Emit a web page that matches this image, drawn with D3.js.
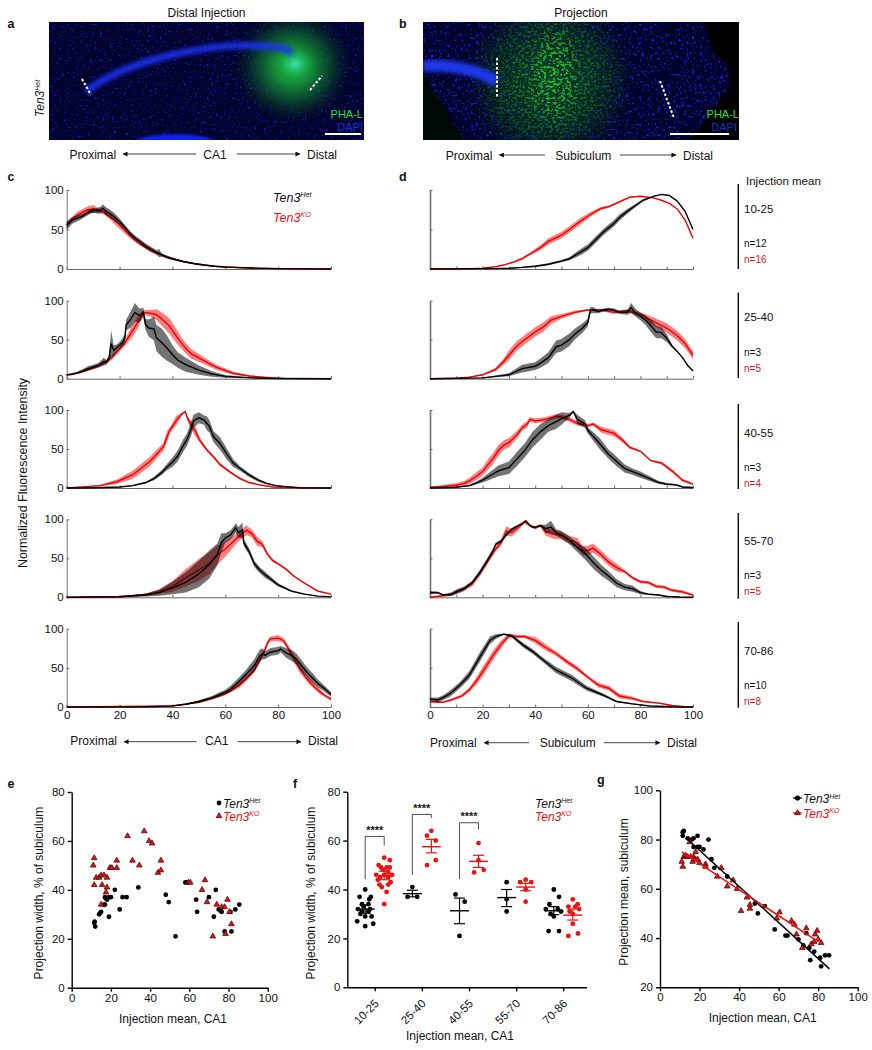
<!DOCTYPE html>
<html><head><meta charset="utf-8">
<script src="https://cdn.jsdelivr.net/npm/d3@7"></script>
<style>
html,body{margin:0;padding:0;background:#fff}
svg{display:block}
text{font-family:"Liberation Sans",Arial,sans-serif;fill:#111}
</style></head><body>
<script>
// ---------- DATA: [x, mean, half-band] ----------
const c1Het=[[0,55,5],[1,58,5],[2,61,4],[3,63,4],[4,64,4],[6,67,3],[8,71,3],[9,73,3],[10,74,3],[11,74,3],[12,74,4],[13,75,4],[13.6,77,5],[15,73,5],[16,71,5],[18,66,5],[20,60,4],[22,53,3],[24,45,3],[26,39,3],[28,34,3],[30,29,3],[32,25,3],[34,21,3],[35,20,5],[36,17.5,2],[38,15,2],[40,13,1.5],[44,9.5,1],[48,7,1],[52,5,.8],[56,3.5,.5],[60,2.5,.4],[65,1.7,.3],[70,1.2,.2],[80,.5,.1],[90,.2,.1],[100,0,0]];
const c1KO=[[0,56,3],[2,63,3],[4,68,4],[6,72,4],[8,75,4],[10,76,5],[12,74,3],[14,72,3],[16,67,3],[18,62,5],[20,56,5],[22,49,4],[24,42,3],[26,36,2],[28,31,2],[30,27,2],[32,23,2],[34,20,1.5],[36,18,1.5],[38,15,1],[40,13,1],[44,9.5,1],[48,7,.7],[52,5,.5],[56,3.5,.4],[60,2.5,.3],[70,1.2,.2],[80,.5,.1],[100,0,0]];
const c2Het=[[0,5,1],[2,5.5,1],[4,7.5,1.5],[6,10,2],[8,13,3],[10,15,3],[12,17,3],[14,22,5],[15,21,3],[16,26,4],[16.8,45,17],[17.8,36,7],[19,40,4],[21,46,5],[22,52,6],[22.5,69,7],[24,75,10],[25.8,85,12],[27.5,81,9],[29,85,6],[29.8,70,7],[31,65,11],[33,64,15],[34,52,17],[36,46,18],[38,39,16],[40,31,12],[42,24,10],[45,18,9],[50,11,6],[55,6,3.5],[60,3,1.7],[70,1,.5],[80,.3,.2],[100,0,0]];
const c2KO=[[0,5,.5],[5,8,1],[10,14,1.5],[14,20,2],[17,27,3],[20,38,3],[22,46,4],[25,62,8],[27,73,8],[29,85,3],[31.5,84,4],[34,82,7],[36.5,75,9],[39,67,10],[41.6,54,9],[44,43,7],[47,32,6],[50.4,26,5],[53.6,20,4],[56.7,14.5,3.5],[63,7,2],[69,3.4,1],[75.6,1.7,.6],[82,.4,.3],[90,.1,.1],[100,0,0]];
const c3Het=[[0,0,0],[10,.3,.1],[20,1.3,.4],[25,3,.7],[30,7,1],[33,12,2],[36,20,3],[38,27,4],[40,33,6],[42,41,7],[44,54,8],[45.5,62,8],[47,75,9],[48,86,8],[50,90,7],[52,87,6],[53,83,9],[54,79,8],[55.5,66,7],[58,57,8],[60.5,44,7],[63,32,5],[65.6,25,3],[69,16.7,2.5],[72.5,10,2],[75.6,6,1.2],[79,3,.7],[83,1.7,.4],[88,.4,.2],[100,0,0]];
const c3KO=[[0,0,0],[12.6,3,.8],[19,8,3],[25,17,5],[31.5,34,6],[36.6,53,5],[38,66,7],[39,74,4],[41.6,87,6],[43.5,94.5,2],[44.8,98,1],[46,87,4],[48.5,74,7],[50.4,61,3],[53,49,2],[55.5,40,2],[58,30,2],[62,20,1.5],[65.6,12,1.5],[69,7,1],[73,4,.7],[78,1.3,.4],[88,.3,.1],[100,0,0]];
const c4Het=[[0,0,0],[20,.7,.5],[30,3,2],[35,6,4],[40,12,8],[45,19,13],[50,30,17],[54,42,18],[57,55,14],[58.5,70,12],[60,76,6],[62,80,6],[64,89,6],[65,83,7],[66.5,86,10],[67,70,5],[69,59,4],[71,43,4],[73,35,4],[75,29,4],[77,24,3],[80,16,2],[85,8,1],[90,4,.6],[95,1.5,.3],[100,.5,.1]];
const c4KO=[[0,0,0],[20,.8,.4],[30,3.5,1.5],[35,7,3],[40,14,7],[45,25,11],[50,35,14],[54,44,14],[57,54,12],[60,62,10],[62,68,8],[65,78,6],[68,86,6],[70,82,5],[72,72,6],[74,68,4],[76,55,2],[78,47,2],[80,43,1.5],[83,36,1.5],[86,27,1],[90,18,1],[95,8,1],[100,4,.7]];
const c5Het=[[0,0,0],[30,.3,.1],[40,1.5,.3],[45,3.5,.5],[50,7,1.5],[55,12,2],[58,16,3],[60,19,3],[62,23,4],[65,32,5],[68,42,6],[71,53,8],[73,65,8],[74,68,7],[75,66,5],[77,70,5],[80,72,5],[81,74,4],[83,69,6],[85,66,7],[87,61,7],[89,52,7],[91,44,6],[93,37,6],[95,30,5],[97,25,4],[100,16,3]];
const c5KO=[[0,0,0],[40,1.3,.2],[50,6,1],[55,11,1.5],[60,17,2],[65,27,3],[68,36,3],[71,47,3],[73,60,4],[75,73,4],[76,82,3],[77,87,3],[80,88,4],[82,85,3],[84,74,4],[86,62,5],[88,50,5],[90,40,4],[92,32,4],[94,25,3],[96,19,3],[98,14,2],[100,10,2]];
const d1Het=[[0,0,0],[20,.5,.2],[30,1,.4],[35,2,.7],[40,3.5,1],[45,6,1.2],[50,10,1.5],[53,13,2],[55,17,3],[58,23,4],[60,27,4],[63,37,4],[66,47,4],[70,58,4],[72,65,4],[75,73,3],[78,80,2],[81,87,1.5],[85,92,.7],[88,94.5,.3],[91,93,.2],[94,86,.2],[97,73,.2],[100,50,.2]];
const d1KO=[[0,0,0],[15,.5,.2],[20,1,.3],[25,3,.4],[28,5,.6],[32,9,1],[35,13,1.5],[38,19,2],[42,27,3],[45,35,4],[50,43,4],[53,50,4],[57,60,4],[61,69,3],[65,76.6,2],[68,79,1.5],[72,85,1],[76,91,1],[80,92,.5],[85,90,.3],[88,87,.2],[91,83,.2],[94,76,.2],[97,62,.2],[100,39,.2]];
const d2Het=[[0,0,0],[20,1,.5],[25,3,1],[30,5,2],[35,13,5],[40,16,5],[42,20,6],[45,27,7],[48,41,8],[50,43,8],[53,50,8],[55,57,7],[58,65,6],[60,72,5],[61,88,4],[62,88,4],[64,86,2],[66,88,2],[68,89,2],[70,88,2],[72,85,2],[75,85,3],[76.5,91,6],[78,85,5],[80,80,5],[82,75,6],[84,68,8],[86,60,8],[88,59,7],[90,52,5],[92,42,2],[94,35,.8],[96,27,.5],[98,17,.5],[100,10,.5]];
const d2KO=[[0,0,0],[10,.5,.3],[15,2,.5],[20,5,1],[25,12,2],[28,22,4],[30,30,6],[33,42,6],[36,50,6],[40,60,6],[43,66,6],[46,75,5],[50,80,3],[55,85,2],[60,88,1],[65,88,1],[70,85,2],[75,87,2],[80,82,3],[84,75,5],[88,68,6],[90,65,6],[94,55,6],[97,45,6],[100,30,5]];
const d3Het=[[0,0,0],[10,1,.5],[15,3,1],[18,7,2],[20,10,3],[23,16,5],[26,22,7],[30,26,8],[33,37,9],[36,48,9],[39,62,10],[42,72,10],[45,80,8],[48,85,9],[50,89,8],[53,93,3],[54.5,98,1],[56,88,6],[59,82,5],[60,74,4],[64.5,57,7],[67.7,44,6],[71,34,6],[74,25,5],[77,21,4],[80,17,4],[83.5,12,3],[87,7,2],[90,5,1.5],[93.7,4,1],[96,1.3,.5],[100,.7,.2]];
const d3KO=[[0,1,1],[5,2,2],[10,3.5,3],[13,6,3],[15,9,4],[18,16,5],[20,21,5],[22,30,7],[24,38,7],[26,48,7],[28,55,6],[30,58,6],[33,68,5],[35,77,4],[37,82,4],[38,88,3],[40,86,3],[44,88,3],[48,92,3],[50,91,3],[53,88,3],[56,83,3],[60,80,2],[62,82,2],[65,75,4],[68,72,4],[70,70,4],[73,62,3],[76,52,2],[80,47,1],[84,35,1],[88,32,2],[92,22,2],[96,10,2],[100,5,1]];
const d4Het=[[0,6,2],[3,6,1.5],[5,3,1],[8,4,2],[10,7,3],[13,11,3],[16,19,2],[19,32,3],[22,48,3],[24,60,3],[25,68,2],[27,72,2],[29,80,2],[31,87,2],[33,91,1.5],[35,94,1],[36.5,98,1],[38,92,1],[39,90,1],[40,90,1],[42,92,1],[44,88,5],[46,90,8],[48,83,4],[50,80,5],[53,73,5],[56,64,6],[59,56,8],[62,45,8],[65,35,7],[68,27,6],[71,18,5],[74,13,4],[77,11,4],[80,6,2],[83,4,1],[87,3,1],[90,1,.5],[95,.3,.2],[100,0,0]];
const d4KO=[[0,0,0],[5,2,1],[8,3,1],[10,7,2],[13,11,2],[16,17,3],[19,31,4],[22,47,4],[25,62,3],[27,70,4],[29,85,6],[31,83,5],[33,88,4],[36,97,2],[38,92,2],[40,89,2],[42,92,2],[44,84,5],[47,81,6],[50,79,5],[53,74,5],[56,70,6],[58,60,6],[60,60,6],[62,63,6],[65,55,5],[68,45,5],[71,38,5],[74,33,2],[77,25,2],[80,20,2],[83,19,2],[86,14,2],[89,13,2],[92,9,2],[96,7,2],[100,3,1]];
const d5Het=[[0,10,2],[3,9,3],[5,12,3],[7.6,17,4],[11.4,28,4],[15,41,5],[19,64,6],[22.8,85,5],[25,90,3],[28,93,1],[31,91,2],[35.4,79,3],[39,71,3],[43,60,3],[48,47,4],[54,37,4],[59.5,24,3],[66,15,2],[71,7,1],[77,4,.7],[83.5,1.3,.3],[92,.3,.1],[100,0,0]];
const d5KO=[[0,7,1],[3,6,1],[5,6,1],[8,9,1.5],[12,14,2],[15,22,3],[18,35,5],[20,45,6],[24,66,6],[27,80,5],[30,91,3],[33,90,2],[36,90,2],[40,85,4],[44,76,4],[48,68,3],[52,58,3],[56,49,3],[60,38,2],[64,28,3],[68,24,3],[72,14,3],[77,11,2],[81,7,1],[87,5,.7],[92,2,.4],[97,.5,.2],[100,0,0]];
const rowGroups=["10-25","25-40","40-55","55-70","70-86"];
const nHet=["n=12","n=3","n=3","n=3","n=10"];
const nKO=["n=16","n=5","n=4","n=5","n=8"];
const xLabelsProfile=[0,20,40,60,80,100];
// panel e: [injection mean, projection width]
const eHet=[[11.5,26.5],[11.7,27],[12,25],[14,30],[14.5,30.5],[15,31],[16.5,34],[17,34],[17,37],[17.5,36.5],[18,36],[19,37],[19,29],[20,37],[22,40],[24.5,32],[26,37],[28,37],[34,41],[48,38],[49.5,35],[53,21],[58,43],[59,43],[63.5,36],[64,31],[70,37],[72.5,29],[73.5,40],[75,32],[76,31.5],[76.5,31],[78,23],[81,31],[81.5,23],[83.5,32],[85.5,34]];
const eKO=[[11,50],[11.5,53],[11.5,42],[12.5,45],[14,45],[15,46],[15,34],[15.5,42],[16.5,46],[17.5,39],[18,45],[18,41],[19.5,49],[20.5,49],[23,52],[23,49],[28.5,62],[31,52],[34.5,50],[37,64],[39.5,60],[41,59],[44,47],[45.5,48],[45.5,52],[59.5,43],[60.5,43],[66.5,40],[68,44],[69,35],[74,34],[76.5,33],[78,33],[78.5,22],[79.5,36],[80.5,31],[81.5,26],[72,21]];
// panel f: per group [value, swarm offset -1..1]
const fHet=[
 [[40,0],[37,-.7],[37,.7],[36,.5],[34,-.4],[34,.4],[33,-.2],[32,-.9],[32,.6],[31,-.4],[31,.4],[30,-.6],[29,0],[29,.8],[27,-1],[26,1],[25,0]],
 [[41,0],[37,-.6],[37,.6]],
 [[38,-.5],[35,.65],[21,0]],
 [[43,0],[36,0],[31,0]],
 [[40,0],[37,.65],[34,-.55],[32,.5],[32,-1],[31,.9],[30,-.4],[29,0],[23,-.65],[23,.65]]];
const fKO=[
 [[53,0],[52,.7],[50,-.7],[49,-.4],[49,.3],[49,.7],[48,-.1],[47,.5],[46,-1],[46,0],[46,1],[45,-.5],[45,.5],[44,-.8],[43,.8],[42,-.6],[42,.5],[41,-.3],[39,.3],[34,0]],
 [[64,0],[62,-.55],[60,.55],[52,.55],[50,-.55]],
 [[59,0],[52,0],[48,.65],[47,-.55]],
 [[44,0],[43,-.7],[43,.7],[40,0],[35,0]],
 [[36,0],[34,.6],[33,-.55],[33,.3],[32,.8],[31,-.4],[30,0],[26,0],[22,.65],[21,-.55]]];
const fHetMean=[32,38.3,31.3,36.7,31.3], fHetLo=[30.3,37,26,33,29.7], fHetHi=[33.7,39.7,36.5,40,33];
const fKOMean=[45.7,57.5,51.5,41,29.5], fKOLo=[44,55,49,39.5,27.5], fKOHi=[47.5,60.5,54,42.5,32];
// significance brackets: [group index, left foot, top, right foot]
const fBrackets=[[0,44.2,61.7,58],[1,46,70.7,69.2],[2,44.2,67.3,64.6]];
// panel g
const gHet=[[11.5,83],[12,83.5],[11.5,81.5],[14,80.5],[16,80],[17,80.5],[19,81.5],[17,77],[19,77],[20,77],[22,76],[24.5,80],[26,72],[27.5,68.5],[34,65],[48,54],[49.5,50],[53,53],[58,43.5],[63.5,41],[64.5,41],[70,39.5],[72.5,37],[74,42],[75.5,36],[76,31],[78,34.5],[81,32],[81.5,28.5],[83.5,33],[85.5,33]];
const gKO=[[11,71],[11.5,69],[12,73],[13,73.5],[14,73],[15,79],[15.5,73],[16.5,71],[17,73],[17.5,72],[18,75],[19,72],[20,70.5],[23,70],[23,69],[29,65],[31,68.5],[34,61],[37,63.5],[39,60],[41,51],[44,56.5],[45.5,52],[45.5,53.5],[59,48],[60.5,50.5],[66.5,47],[68,45.5],[69,41.5],[72,36],[74,44],[76.5,37.5],[78,38.5],[78.5,41.5],[79.5,43],[80,39.5],[81.5,38]];
const gHetFit=[[14,80],[85.7,27.5]];
const gKOFit=[[11,75],[80,38.5]];

const RED="#ee1111";
const svg=d3.select("body").append("svg").attr("width",872).attr("height",1050);
const defs=svg.append("defs");

function label(sel,x,y,t,o={}){
  const e=sel.append("text").attr("x",x).attr("y",y).text(t)
   .attr("font-size",o.size||12).attr("text-anchor",o.anchor||"start");
  if(o.color)e.style("fill",o.color);
  if(o.weight)e.attr("font-weight",o.weight);
  if(o.rotate)e.attr("transform",`rotate(${o.rotate} ${x} ${y})`);
  return e;
}
function tenLabel(sel,x,y,sup,color,size=12,rotate){
  const e=sel.append("text").attr("x",x).attr("y",y).attr("font-size",size).attr("font-style","italic").style("fill",color);
  e.append("tspan").text("Ten3").style("fill",color);
  e.append("tspan").text(sup).attr("font-size",size*.58).attr("dy",-size*.36).style("fill",color);
  if(rotate)e.attr("transform",`rotate(${rotate} ${x} ${y})`);
  return e;
}

// ---------- micrographs ----------
function noiseFilter(id,freq,oct,seed,mat,thr){
  const f=defs.append("filter").attr("id",id).attr("x",0).attr("y",0).attr("width",1).attr("height",1).attr("color-interpolation-filters","sRGB");
  f.append("feTurbulence").attr("type","fractalNoise").attr("baseFrequency",freq).attr("numOctaves",oct).attr("seed",seed).attr("result","n");
  f.append("feColorMatrix").attr("in","n").attr("type","matrix")
   .attr("values",`0 0 0 0 ${mat[0]}  0 0 0 0 ${mat[1]}  0 0 0 0 ${mat[2]}  ${thr[0]} 0 0 0 ${thr[1]}`).attr("result","c");
  f.append("feComposite").attr("in","c").attr("in2","SourceGraphic").attr("operator","in");
}
noiseFilter("speckA",".42",2,3,[.05,.1,.85],[10,-6.6]);
noiseFilter("speckB",".38",2,8,[.05,.1,1],[11,-6.9]);
noiseFilter("fibre",".32 .42",3,5,[.1,.75,.15],[7,-3.5]);
const blur=(id,s)=>defs.append("filter").attr("id",id).attr("x","-40%").attr("y","-40%").attr("width","180%").attr("height","180%").append("feGaussianBlur").attr("stdDeviation",s);
blur("b2",2);blur("b1",1);blur("b6",8);
const rg=(id,stops)=>{const g=defs.append("radialGradient").attr("id",id);stops.forEach(s=>g.append("stop").attr("offset",s[0]).attr("stop-color",s[1]).attr("stop-opacity",s[2]));};
rg("gA",[[0,"#22c040",.95],[.3,"#18a838",.85],[.6,"#0e7a2c",.55],[.85,"#08481a",.22],[1,"#06300f",0]]);
rg("gB",[[0,"#fff",1],[.5,"#fff",.75],[1,"#fff",0]]);
rg("gC",[[0,"#40e8d0",.85],[1,"#10c060",0]]);
rg("gD",[[0,"#0c5a22",.7],[.65,"#073a16",.5],[1,"#042008",0]]);
rg("gE",[[0,"#fff",.75],[1,"#fff",0]]);
defs.append("clipPath").attr("id","clipA").append("rect").attr("x",49).attr("y",22).attr("width",315).attr("height",118);
defs.append("clipPath").attr("id","clipB").append("rect").attr("x",423).attr("y",22).attr("width",316).attr("height",118);

const A=svg.append("g").attr("clip-path","url(#clipA)");
A.append("rect").attr("x",49).attr("y",22).attr("width",315).attr("height",118).attr("fill","#02032e");
A.append("rect").attr("x",49).attr("y",22).attr("width",315).attr("height",118).attr("fill","#fff").attr("filter","url(#speckA)");
A.append("ellipse").attr("cx",293).attr("cy",66).attr("rx",60).attr("ry",58).attr("fill","url(#gA)");
A.append("path").attr("d","M86 92C105 76 130 66 160 58S225 44 260 46S285 50 292 55").attr("fill","none").attr("stroke","#1a30f0").attr("stroke-width",7).attr("opacity",.9).attr("filter","url(#b2)");
A.append("ellipse").attr("cx",295).attr("cy",64).attr("rx",18).attr("ry",15).attr("fill","url(#gC)");
A.append("ellipse").attr("cx",175).attr("cy",144).attr("rx",42).attr("ry",10).attr("fill","#0d20f0").attr("filter","url(#b1)");
[[82,79,91,95],[310,90,322,76]].forEach(d=>A.append("line").attr("x1",d[0]).attr("y1",d[1]).attr("x2",d[2]).attr("y2",d[3]).attr("stroke","#fff").attr("stroke-width",2).attr("stroke-dasharray","2.5 2"));
label(A,363,117.5,"PHA-L",{anchor:"end",color:"#18e030",size:11});
label(A,363,130.5,"DAPI",{anchor:"end",color:"#1530d8",size:11});
A.append("line").attr("x1",325).attr("x2",361).attr("y1",134).attr("y2",134).attr("stroke","#fff").attr("stroke-width",2);

const B=svg.append("g").attr("clip-path","url(#clipB)");
B.append("rect").attr("x",423).attr("y",22).attr("width",316).attr("height",118).attr("fill","#02032a");
B.append("rect").attr("x",423).attr("y",22).attr("width",316).attr("height",118).attr("fill","#fff").attr("filter","url(#speckB)");
B.append("ellipse").attr("cx",550).attr("cy",80).attr("rx",85).attr("ry",85).attr("fill","url(#gD)");
B.append("ellipse").attr("cx",550).attr("cy",80).attr("rx",85).attr("ry",90).attr("fill","url(#gE)").attr("filter","url(#fibre)");
B.append("ellipse").attr("cx",555).attr("cy",75).attr("rx",28).attr("ry",58).attr("fill","url(#gB)").attr("filter","url(#fibre)");
B.append("path").attr("d","M423 66C450 64 480 70 497 82").attr("fill","none").attr("stroke","#1a38e8").attr("stroke-width",12).attr("filter","url(#b2)");
B.append("path").attr("d","M423 74L465 141H423Z").attr("fill","#010a06");
B.append("path").attr("d","M704 22L712 50L727 64L730 85L712 112L690 140H739V22Z").attr("fill","#000");
[[497,58,497,98],[660,81,674,118]].forEach(d=>B.append("line").attr("x1",d[0]).attr("y1",d[1]).attr("x2",d[2]).attr("y2",d[3]).attr("stroke","#fff").attr("stroke-width",2).attr("stroke-dasharray","2.5 2"));
label(B,739,117.5,"PHA-L",{anchor:"end",color:"#18e030",size:11});
label(B,737,130.5,"DAPI",{anchor:"end",color:"#1530d8",size:11});
B.append("line").attr("x1",670).attr("x2",729).attr("y1",134).attr("y2",134).attr("stroke","#fff").attr("stroke-width",2);

label(svg,206.5,17,"Distal Injection",{anchor:"middle"});
label(svg,581,17,"Projection",{anchor:"middle"});
[["a",7.5,28],["b",399,28],["c",7.5,181],["d",399,181],["e",7.5,788],["f",293,788],["g",597,784]].forEach(d=>label(svg,d[1],d[2],d[0],{weight:"bold",size:12.5}));
tenLabel(svg,44,117,"Het","#111",12,-90);

// direction rows
defs.append("marker").attr("id","arr").attr("viewBox","0 0 6 6").attr("refX",5.5).attr("refY",3).attr("markerWidth",5).attr("markerHeight",5).attr("orient","auto-start-reverse").attr("markerUnits","userSpaceOnUse").append("path").attr("d","M0 0L6 3L0 6Z").attr("fill","#111");
function dirRow(px,base,ay,a1,a2,mid,name,a3,a4,dx){
  label(svg,px,base,"Proximal");
  label(svg,mid,base,name,{anchor:"middle"});
  label(svg,dx,base,"Distal");
  [[a1,a2],[a3,a4]].forEach(a=>svg.append("line").attr("x1",a[0]).attr("x2",a[1]).attr("y1",ay).attr("y2",ay).attr("stroke","#111").attr("stroke-width",.8).attr("marker-end","url(#arr)"));
}
dirRow(69.5,158.5,154,196,123,215,"CA1",236.7,300,307);
dirRow(445.7,159.5,155,545,499.3,583.3,"Subiculum",620,676,683);
dirRow(70.3,745,741.7,196.7,124,216.7,"CA1",237.7,301,308);
dirRow(430,746.7,742.7,529,484,567.7,"Subiculum",604,660,667);

// ---------- profile panels ----------
const rowsY=[[269,190],[378.7,300.7],[488,410],[597.3,519.3],[707,628.7]];
const profC=[[c1Het,c1KO],[c2Het,c2KO],[c3Het,c3KO],[c4Het,c4KO],[c5Het,c5KO]];
const profD=[[d1Het,d1KO],[d2Het,d2KO],[d3Het,d3KO],[d4Het,d4KO],[d5Het,d5KO]];
const xC=d3.scaleLinear([0,100],[66.7,331]);
const xD=d3.scaleLinear([0,100],[430,693]);
function drawProfile(x,row,het,ko,opts){
  const y=d3.scaleLinear([0,100],rowsY[row]);
  const g=svg.append("g");
  const xa=d3.axisBottom(x).tickValues(opts.xticks).tickSize(-2.5).tickSizeOuter(0).tickPadding(4);
  if(row<4)xa.tickFormat("");else xa.tickFormat(d=>xLabelsProfile.includes(d)?d:"");
  const gx=g.append("g").attr("transform",`translate(0,${rowsY[row][0]})`).call(xa);
  const ya=d3.axisLeft(y).tickValues([0,50,100]).tickSize(-2.5).tickSizeOuter(0).tickPadding(3);
  if(!opts.ylabels)ya.tickFormat("");
  const gy=g.append("g").attr("transform",`translate(${x.range()[0]},0)`).call(ya);
  [gx,gy].forEach(a=>{a.selectAll("path,line").attr("stroke","#666").attr("stroke-width",1);
    a.selectAll("text").attr("font-size",11.5).style("fill","#111").attr("font-family",'"Liberation Sans",Arial,sans-serif');});
  gy.selectAll("path").attr("stroke","#777").attr("stroke-width",opts.ylabels?1:1.7);
  const area=d3.area().x(d=>x(d[0])).y0(d=>y(Math.max(0,d[1]-d[2]))).y1(d=>y(d[1]+d[2]));
  const line=d3.line().x(d=>x(d[0])).y(d=>y(d[1]));
  g.append("path").datum(ko).attr("d",area).attr("fill","#ff0000").attr("opacity",.5);
  g.append("path").datum(ko).attr("d",line).attr("fill","none").attr("stroke","#f00000").attr("stroke-width",1.4);
  g.append("path").datum(het).attr("d",area).attr("fill","#000").attr("opacity",.55);
  g.append("path").datum(het).attr("d",line).attr("fill","none").attr("stroke","#000").attr("stroke-width",1.4);
}
profC.forEach((p,i)=>drawProfile(xC,i,p[0],p[1],{xticks:xLabelsProfile,ylabels:true}));
profD.forEach((p,i)=>drawProfile(xD,i,p[0],p[1],{xticks:d3.range(0,101,10),ylabels:false}));
tenLabel(svg,273,201.5,"Het","#111",12.5);
tenLabel(svg,273,221.5,"KO",RED,12.5);
label(svg,27,473,"Normalized Fluorescence Intensity",{anchor:"middle",rotate:-90,size:12.4});

// right column
const barY=[[184,269],[292.7,378],[404,489],[513,598.7],[622,707.7]];
const groupBase=[213,320.7,437.3,545,655], hetBase=[246.7,356,471,579,688.7], koBase=[263,372.3,487.3,595,705];
label(svg,746,185,"Injection mean",{size:11.5});
rowGroups.forEach((t,i)=>{
  svg.append("line").attr("x1",738.3).attr("x2",738.3).attr("y1",barY[i][0]).attr("y2",barY[i][1]).attr("stroke","#111").attr("stroke-width",1.5);
  label(svg,744,groupBase[i],t,{size:11.5});
  label(svg,744,hetBase[i],nHet[i],{size:10});
  label(svg,744,koBase[i],nKO[i],{size:10,color:RED});
});

// ---------- lower axes ----------
function styleAxis(a){
  a.selectAll("path,line").attr("stroke","#000").attr("stroke-width",1.4);
  a.selectAll("text").attr("font-size",11.5).style("fill","#111").attr("font-family",'"Liberation Sans",Arial,sans-serif');
}
const tri=d3.symbol().type(d3.symbolTriangle).size(14);
function dots(g,data,x,y){g.append("g").selectAll("circle").data(data).join("circle").attr("cx",d=>x(d[0])).attr("cy",d=>y(d[1])).attr("r",2.4).attr("fill","#000");}
function tris(g,data,x,y){g.append("g").selectAll("path").data(data).join("path").attr("d",tri).attr("transform",d=>`translate(${x(d[0])},${y(d[1])})`).attr("fill","#ee1010").attr("stroke","#300").attr("stroke-width",.7);}
function scatterAxes(x,y,yticks,yTitle,titleX,titleY,xtX,xtY){
  const g=svg.append("g");
  styleAxis(g.append("g").attr("transform",`translate(0,${y.range()[0]})`).call(d3.axisBottom(x).tickValues([0,20,40,60,80,100]).tickSize(4).tickSizeOuter(0).tickPadding(2)));
  styleAxis(g.append("g").attr("transform",`translate(${x.range()[0]},0)`).call(d3.axisLeft(y).tickValues(yticks).tickSize(4).tickSizeOuter(0).tickPadding(3)));
  label(svg,xtX,xtY,"Injection mean, CA1",{anchor:"middle"});
  label(svg,titleX,titleY,yTitle,{anchor:"middle",rotate:-90});
  return g;
}
// e
const xE=d3.scaleLinear([0,100],[71.7,267.7]), yE=d3.scaleLinear([0,80],[987.7,792]);
const gE=scatterAxes(xE,yE,[0,20,40,60,80],"Projection width, % of subiculum",43,893,173,1022.7);
dots(gE,eHet,xE,yE);tris(gE,eKO,xE,yE);
svg.append("circle").attr("cx",219).attr("cy",803).attr("r",2.4).attr("fill","#000");
svg.append("path").attr("d",tri).attr("transform","translate(219,816)").attr("fill","#ee1010").attr("stroke","#300").attr("stroke-width",.7);
tenLabel(svg,223,807.5,"Het","#111",12);
tenLabel(svg,223,820.5,"KO",RED,12);

// f
const xF=d3.scalePoint(rowGroups,[374.7,563.3]), yF=d3.scaleLinear([0,80],[987.3,791.7]);
const side=9.5, jitter=d3.scaleLinear([-1,1],[-8,8]);
const gF=svg.append("g");
const axF=gF.append("g").attr("transform",`translate(0,987.3)`).call(d3.axisBottom(xF).tickSize(4).tickSizeOuter(0).tickPadding(2));
axF.select("path").attr("d","M347.3,0.5H587");
styleAxis(axF);
axF.selectAll("text").attr("text-anchor","end").attr("transform","translate(-2,9) rotate(-45)").attr("dy",".35em").attr("dx","-.1em");
styleAxis(gF.append("g").attr("transform","translate(347.3,0)").call(d3.axisLeft(yF).tickValues([0,20,40,60,80]).tickSize(4).tickSizeOuter(0).tickPadding(3)));
label(svg,460,1040,"Injection mean, CA1",{anchor:"middle"});
label(svg,315,893,"Projection width, % of subiculum",{anchor:"middle",rotate:-90});
function fGroup(points,means,lo,hi,off,color){
  rowGroups.forEach((k,i)=>{
    const cx=xF(k)+off, g=gF.append("g");
    g.selectAll("circle").data(points[i]).join("circle").attr("cx",d=>cx+jitter(d[1])).attr("cy",d=>yF(d[0])).attr("r",2.4).attr("fill",color);
    g.append("line").attr("x1",cx-9.5).attr("x2",cx+9.5).attr("y1",yF(means[i])).attr("y2",yF(means[i])).attr("stroke",color).attr("stroke-width",1.4);
    g.append("line").attr("x1",cx).attr("x2",cx).attr("y1",yF(lo[i])).attr("y2",yF(hi[i])).attr("stroke",color).attr("stroke-width",1.2);
    [lo[i],hi[i]].forEach(v=>g.append("line").attr("x1",cx-5.5).attr("x2",cx+5.5).attr("y1",yF(v)).attr("y2",yF(v)).attr("stroke",color).attr("stroke-width",1.2));
  });
}
fGroup(fHet,fHetMean,fHetLo,fHetHi,-side,"#000");
fGroup(fKO,fKOMean,fKOLo,fKOHi,side,"#f01010");
fBrackets.forEach(b=>{
  const l=xF(rowGroups[b[0]])-side, r=xF(rowGroups[b[0]])+side;
  gF.append("path").attr("d",d3.line()([[l,yF(b[1])],[l,yF(b[2])],[r,yF(b[2])],[r,yF(b[3])]])).attr("fill","none").attr("stroke","#222").attr("stroke-width",.8);
  label(gF,(l+r)/2,yF(b[2])-2.5,"****",{anchor:"middle",size:11,weight:"bold"});
});
tenLabel(svg,535,807.5,"Het","#111",12);
tenLabel(svg,535,820.7,"KO",RED,12);

// g
const xG=d3.scaleLinear([0,100],[660,857.7]), yG=d3.scaleLinear([20,100],[987.3,790.3]);
const gG=scatterAxes(xG,yG,[20,40,60,80,100],"Projection mean, subiculum",627.7,892,762.7,1022);
dots(gG,gHet,xG,yG);tris(gG,gKO,xG,yG);
const fit=d3.line().x(d=>xG(d[0])).y(d=>yG(d[1]));
gG.append("path").datum(gHetFit).attr("d",fit).attr("stroke","#000").attr("stroke-width",1.5).attr("fill","none");
gG.append("path").datum(gKOFit).attr("d",fit).attr("stroke",RED).attr("stroke-width",1.5).attr("fill","none");
svg.append("line").attr("x1",793).attr("x2",802).attr("y1",798).attr("y2",798).attr("stroke","#000").attr("stroke-width",1.3);
svg.append("circle").attr("cx",797.5).attr("cy",798).attr("r",2.6).attr("fill","#000");
svg.append("line").attr("x1",793).attr("x2",802).attr("y1",813).attr("y2",813).attr("stroke",RED).attr("stroke-width",1.3);
svg.append("path").attr("d",tri).attr("transform","translate(797.5,813)").attr("fill","#ee1010").attr("stroke","#300").attr("stroke-width",.7);
tenLabel(svg,803,803,"Het","#111",12);
tenLabel(svg,803,817.7,"KO",RED,12);
</script>
</body></html>
